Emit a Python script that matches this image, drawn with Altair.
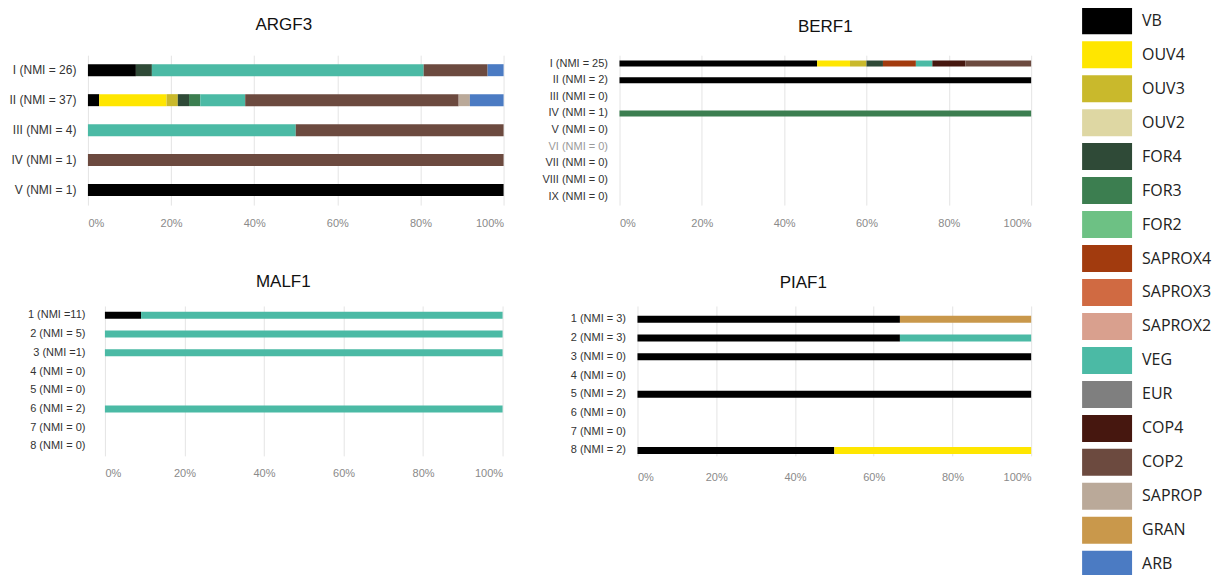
import altair as alt
import pandas as pd

# ---------------- categories & colours ----------------
CATEGORIES = ["VB", "OUV4", "OUV3", "OUV2", "FOR4", "FOR3", "FOR2", "SAPROX4",
              "SAPROX3", "SAPROX2", "VEG", "EUR", "COP4", "COP2", "SAPROP", "GRAN", "ARB"]
COLORS = ["#000000", "#FFE600", "#C9B92C", "#DED7A3", "#2F4A37", "#3C7E50", "#6DC184",
          "#A23B0E", "#D06A42", "#D9A08E", "#4BBAA5", "#7F7F7F", "#46170F", "#6C4A3F",
          "#BAA999", "#C9984B", "#4B7BC3"]

# ---------------- ARGF3 ----------------
ARGF3_ROWS = ["I (NMI = 26)", "II (NMI = 37)", "III (NMI = 4)", "IV (NMI = 1)", "V (NMI = 1)"]
ARGF3_SEG_ROW = [0, 0, 0, 0, 0,
                 1, 1, 1, 1, 1, 1, 1, 1, 1,
                 2, 2,
                 3,
                 4]
ARGF3_SEG_CAT = ["VB", "FOR4", "VEG", "COP2", "ARB",
                 "VB", "OUV4", "OUV3", "FOR4", "FOR3", "VEG", "COP2", "SAPROP", "ARB",
                 "VEG", "COP2",
                 "COP2",
                 "VB"]
ARGF3_SEG_VAL = [3, 1, 17, 4, 1,
                 1, 6, 1, 1, 1, 4, 19, 1, 3,
                 2, 2,
                 1,
                 1]

# ---------------- BERF1 ----------------
BERF1_ROWS = ["I (NMI = 25)", "II (NMI = 2)", "III (NMI = 0)", "IV (NMI = 1)", "V (NMI = 0)",
              "VI (NMI = 0)", "VII (NMI = 0)", "VIII (NMI = 0)", "IX (NMI = 0)"]
BERF1_SEG_ROW = [0, 0, 0, 0, 0, 0, 0, 0,
                 1,
                 3]
BERF1_SEG_CAT = ["VB", "OUV4", "OUV3", "FOR4", "SAPROX4", "VEG", "COP4", "COP2",
                 "VB",
                 "FOR3"]
BERF1_SEG_VAL = [12, 2, 1, 1, 2, 1, 2, 4,
                 2,
                 1]

# ---------------- MALF1 ----------------
MALF1_ROWS = ["1 (NMI =11)", "2 (NMI = 5)", "3 (NMI =1)", "4 (NMI = 0)", "5 (NMI = 0)",
              "6 (NMI = 2)", "7 (NMI = 0)", "8 (NMI = 0)"]
MALF1_SEG_ROW = [0, 0, 1, 2, 5]
MALF1_SEG_CAT = ["VB", "VEG", "VEG", "VEG", "VEG"]
MALF1_SEG_VAL = [1, 10, 5, 1, 2]

# ---------------- PIAF1 ----------------
PIAF1_ROWS = ["1 (NMI = 3)", "2 (NMI = 3)", "3 (NMI = 0)", "4 (NMI = 0)", "5 (NMI = 2)",
              "6 (NMI = 0)", "7 (NMI = 0)", "8 (NMI = 2)"]
PIAF1_SEG_ROW = [0, 0, 1, 1, 2, 4, 7, 7]
PIAF1_SEG_CAT = ["VB", "GRAN", "VB", "VEG", "VB", "VB", "VB", "OUV4"]
PIAF1_SEG_VAL = [2, 1, 2, 1, 1, 2, 1, 1]

X_TICKS = [0, 0.2, 0.4, 0.6, 0.8, 1.0]

LEGEND = alt.Legend(
    title=None, orient="none", legendX=1007.5, legendY=-47, direction="vertical", columns=1,
    symbolType="M-2,-1.08H2V1.08H-2Z", symbolSize=625, symbolStrokeWidth=0,
    symbolOpacity=1, labelFont="Open Sans", labelFontSize=16, labelColor="#222222",
    labelOffset=22.5, rowPadding=7, padding=0,
)


def panel(title, rows, seg_row, seg_cat, seg_val, width, height, x_range, y_range,
          bar_size, title_dx, title_offset, label_font_size, label_pad, y_offset=0,
          label_color="#333333"):
    df = pd.DataFrame({
        "row": [rows[i] for i in seg_row],
        "cat": seg_cat,
        "v": seg_val,
        "ci": [CATEGORIES.index(c) for c in seg_cat],
    })
    return alt.Chart(df).mark_bar(size=bar_size).encode(
        x=alt.X("v:Q", stack="normalize",
                scale=alt.Scale(domain=[0, 1], nice=False, range=x_range),
                axis=alt.Axis(values=X_TICKS, format=".0%", title=None, domain=False,
                              ticks=False, grid=True, gridColor="#e4e4e4",
                              labelColor="#8a8a8a", labelFont="Liberation Sans",
                              labelFontSize=11, labelPadding=12)),
        y=alt.Y("row:N", sort=rows,
                scale=alt.Scale(domain=rows, paddingInner=0, paddingOuter=0, range=y_range),
                axis=alt.Axis(title=None, domain=False, ticks=False, grid=False,
                              labelColor=label_color, labelFont="Liberation Sans",
                              labelFontSize=label_font_size, labelPadding=label_pad,
                              labelLimit=200, offset=y_offset)),
        color=alt.Color("cat:N", scale=alt.Scale(domain=CATEGORIES, range=COLORS),
                        legend=LEGEND),
        order=alt.Order("ci:Q"),
    ).properties(
        width=width, height=height,
        title=alt.TitleParams(title, font="Liberation Sans", fontSize=17,
                              fontWeight="normal", color="#111111", anchor="middle",
                              dx=title_dx, offset=title_offset),
    )


argf3 = panel("ARGF3", ARGF3_ROWS, ARGF3_SEG_ROW, ARGF3_SEG_CAT, ARGF3_SEG_VAL,
              416, 150, [0, 416], [0, 150], 12, -12, 21, 12, 12)
berf1 = panel("BERF1", BERF1_ROWS, BERF1_SEG_ROW, BERF1_SEG_CAT, BERF1_SEG_VAL,
              412, 150, [0, 412], [0, 150], 6, 0, 19, 11, 12,
              label_color={"expr": "datum.label == 'VI (NMI = 0)' ? '#9a9a9a' : '#333333'"})
malf1 = panel("MALF1", MALF1_ROWS, MALF1_SEG_ROW, MALF1_SEG_CAT, MALF1_SEG_VAL,
              415, 150, [17, 415], [0, 150], 7, -12, 15, 11, 20, y_offset=-17)
piaf1 = panel("PIAF1", PIAF1_ROWS, PIAF1_SEG_ROW, PIAF1_SEG_CAT, PIAF1_SEG_VAL,
              412, 154, [18, 412], [4, 154], 7, -22, 14, 11, 12, y_offset=-18)

chart = alt.concat(
    argf3, berf1, malf1, piaf1,
    columns=2, spacing={"row": 101, "column": 116}, bounds="flush",
).resolve_scale(
    y="independent", x="independent", color="shared"
).properties(
    padding=0, background="white"
).configure_view(stroke=None)

chart.save("out.html", embed_options={"renderer": "svg", "actions": False})
